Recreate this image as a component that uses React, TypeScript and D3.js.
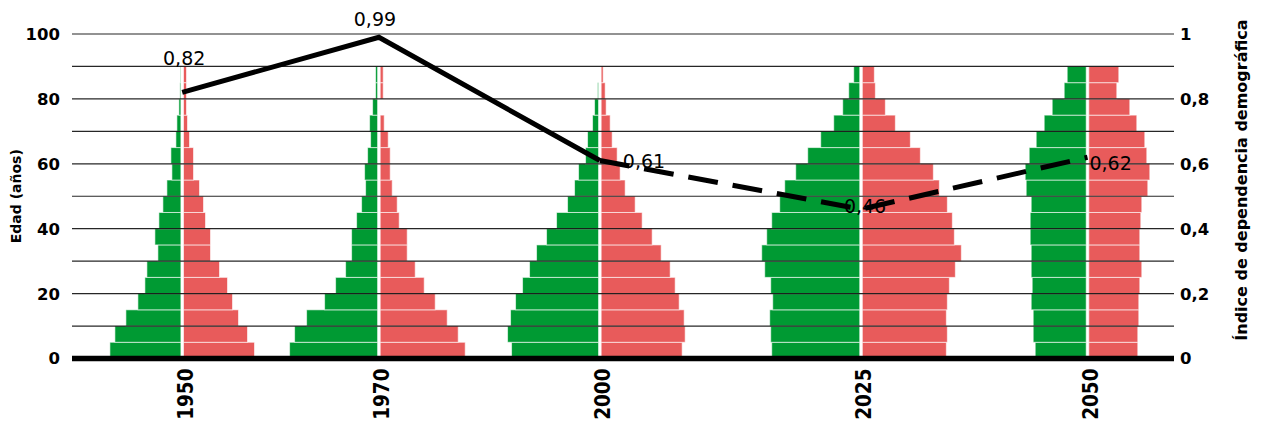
import { useEffect, useRef } from "react";
import * as d3 from "d3";

// census years shown as pyramids along the bottom
const YEARS = ["1950", "1970", "2000", "2025", "2050"];
// 5-year age groups, starting age of each group
const AGE_STARTS = [0, 5, 10, 15, 20, 25, 30, 35, 40, 45, 50, 55, 60, 65, 70, 75, 80, 85];

// population by age group (thousands), men = green / left, women = red / right
const MEN_1950 = [710, 660, 550, 430, 360, 340, 230, 260, 220, 180, 140, 90, 100, 50, 40, 20, 10, 5];
const WOMEN_1950 = [710, 640, 550, 490, 440, 360, 270, 270, 220, 200, 160, 100, 100, 60, 40, 30, 30, 30];
const MEN_1970 = [880, 830, 710, 530, 420, 320, 260, 260, 210, 160, 120, 130, 100, 70, 80, 50, 20, 20];
const WOMEN_1970 = [850, 780, 670, 550, 440, 350, 270, 270, 190, 170, 120, 100, 100, 80, 40, 0, 30, 30];
const MEN_2000 = [870, 910, 880, 830, 760, 690, 620, 520, 420, 310, 240, 200, 130, 110, 60, 40, 10, 0];
const WOMEN_2000 = [810, 840, 830, 780, 740, 690, 600, 510, 410, 340, 240, 190, 160, 110, 90, 50, 40, 20];
const MEN_2025 = [880, 890, 900, 870, 890, 950, 980, 930, 880, 800, 750, 640, 520, 390, 260, 170, 110, 60];
const WOMEN_2025 = [840, 850, 840, 850, 870, 930, 990, 920, 900, 850, 770, 710, 580, 480, 330, 230, 130, 120];
const MEN_2050 = [510, 530, 530, 550, 540, 550, 550, 560, 560, 550, 600, 610, 570, 500, 420, 340, 220, 190];
const WOMEN_2050 = [490, 490, 500, 500, 510, 530, 510, 510, 520, 530, 590, 610, 580, 560, 480, 410, 280, 300];

const MEN = [MEN_1950, MEN_1970, MEN_2000, MEN_2025, MEN_2050];
const WOMEN = [WOMEN_1950, WOMEN_1970, WOMEN_2000, WOMEN_2025, WOMEN_2050];

// demographic dependency index per year
const DEPENDENCY = [0.82, 0.99, 0.61, 0.46, 0.62];

const AGE_TICKS = [0, 20, 40, 60, 80, 100];
const AGE_GRID = [10, 20, 30, 40, 50, 60, 70, 80, 90, 100];
const INDEX_TICKS = [0, 0.2, 0.4, 0.6, 0.8, 1];

const WIDTH = 1262;
const HEIGHT = 422;
const margin = { top: 34, right: 88, bottom: 63.5, left: 72 };
// where each pyramid sits across the plot (fraction of plot width)
const COLUMN_POS = [0.1, 0.2785, 0.479, 0.716, 0.9215];
// label placement relative to each line point
const LABEL_POS = [
  { dx: 2, dy: -27, anchor: "middle" },
  { dx: -4, dy: -11, anchor: "middle" },
  { dx: 23, dy: 7, anchor: "start" },
  { dx: 4, dy: 4, anchor: "middle" },
  { dx: 2, dy: 13, anchor: "start" },
];

const GREEN = "#009a33";
const RED = "#e85b5b";
const FONT = "'DejaVu Sans', sans-serif";
const FONT_COND = "'DejaVu Sans Condensed', 'DejaVu Sans', sans-serif";

export default function App() {
  const svgRef = useRef<SVGSVGElement>(null);

  useEffect(() => {
    if (!svgRef.current) return;
    const svg = d3.select(svgRef.current);
    svg.selectAll("*").remove();

    const x0 = margin.left;
    const x1 = WIDTH - margin.right;
    const innerW = x1 - x0;

    const y = d3.scaleLinear().domain([0, 100]).range([HEIGHT - margin.bottom, margin.top]);
    const yIdx = d3.scaleLinear().domain([0, 1]).range([HEIGHT - margin.bottom, margin.top]);
    const xCol = d3
      .scaleOrdinal<string, number>()
      .domain(YEARS)
      .range(COLUMN_POS.map((f) => x0 + f * innerW));
    const w = d3.scaleLinear().domain([0, 1000]).range([0, 100]);
    const gap = 1.3;
    const fmt = (v: number) => d3.format(".2~f")(v).replace(".", ",");

    // pyramids
    YEARS.forEach((year, i) => {
      const cx = xCol(year);
      const g = svg.append("g");
      g.selectAll("rect.m")
        .data(MEN[i])
        .enter()
        .append("rect")
        .attr("x", (d) => cx - gap - w(d))
        .attr("y", (_, j) => y(AGE_STARTS[j] + 5))
        .attr("width", (d) => w(d))
        .attr("height", (_, j) => y(AGE_STARTS[j]) - y(AGE_STARTS[j] + 5))
        .attr("fill", GREEN)
        .attr("stroke", "#fff")
        .attr("stroke-opacity", 0.6)
        .attr("stroke-width", 1);
      g.selectAll("rect.f")
        .data(WOMEN[i])
        .enter()
        .append("rect")
        .attr("x", cx + gap)
        .attr("y", (_, j) => y(AGE_STARTS[j] + 5))
        .attr("width", (d) => w(d))
        .attr("height", (_, j) => y(AGE_STARTS[j]) - y(AGE_STARTS[j] + 5))
        .attr("fill", RED)
        .attr("stroke", "#fff")
        .attr("stroke-opacity", 0.6)
        .attr("stroke-width", 1);
    });

    // grid lines over the bars
    svg
      .append("g")
      .selectAll("line")
      .data(AGE_GRID)
      .enter()
      .append("line")
      .attr("x1", x0)
      .attr("x2", x1)
      .attr("y1", (d) => y(d))
      .attr("y2", (d) => y(d))
      .attr("stroke", "#000")
      .attr("stroke-opacity", 0.85)
      .attr("stroke-width", 1.2);

    // base line
    svg
      .append("line")
      .attr("x1", x0)
      .attr("x2", x1)
      .attr("y1", y(0))
      .attr("y2", y(0))
      .attr("stroke", "#000")
      .attr("stroke-width", 5.5);

    // left axis
    svg
      .append("g")
      .selectAll("text")
      .data(AGE_TICKS)
      .enter()
      .append("text")
      .attr("x", x0 - 12)
      .attr("y", (d) => y(d))
      .attr("dy", "0.36em")
      .attr("text-anchor", "end")
      .attr("font-family", FONT)
      .attr("font-weight", "bold")
      .attr("font-size", 16.5)
      .text((d) => d);

    svg
      .append("text")
      .attr("transform", `translate(16,${y(50)}) rotate(-90)`)
      .attr("dy", "0.36em")
      .attr("text-anchor", "middle")
      .attr("font-family", FONT)
      .attr("font-weight", "bold")
      .attr("font-size", 14)
      .text("Edad (años)");

    // right axis
    svg
      .append("g")
      .selectAll("text")
      .data(INDEX_TICKS)
      .enter()
      .append("text")
      .attr("x", x1 + 6)
      .attr("y", (d) => yIdx(d))
      .attr("dy", "0.36em")
      .attr("text-anchor", "start")
      .attr("font-family", FONT)
      .attr("font-weight", "bold")
      .attr("font-size", 16.5)
      .text((d) => fmt(d));

    svg
      .append("text")
      .attr("transform", `translate(1241,${yIdx(0.55)}) rotate(-90)`)
      .attr("dy", "0.36em")
      .attr("text-anchor", "middle")
      .attr("font-family", FONT)
      .attr("font-weight", "bold")
      .attr("font-size", 16)
      .text("Índice de dependencia demográfica");

    // year labels
    svg
      .append("g")
      .selectAll("text")
      .data(YEARS)
      .enter()
      .append("text")
      .attr("transform", (d) => `translate(${xCol(d) + 3},${y(0) + 10}) rotate(-90)`)
      .attr("dy", "0.36em")
      .attr("text-anchor", "end")
      .attr("font-family", FONT_COND)
      .attr("font-weight", "bold")
      .attr("font-size", 20.5)
      .text((d) => d);

    // dependency line: measured part solid, projection dashed
    const pts: [number, number][] = YEARS.map((yr, i) => [xCol(yr), yIdx(DEPENDENCY[i])]);
    const line = d3.line();
    svg
      .append("path")
      .attr("d", line(pts.slice(0, 3)))
      .attr("fill", "none")
      .attr("stroke", "#000")
      .attr("stroke-width", 5)
      .attr("stroke-linejoin", "miter");
    svg
      .append("path")
      .attr("d", line(pts.slice(2)))
      .attr("fill", "none")
      .attr("stroke", "#000")
      .attr("stroke-width", 5)
      .attr("stroke-dasharray", "30,15");

    svg
      .append("g")
      .selectAll("text")
      .data(DEPENDENCY)
      .enter()
      .append("text")
      .attr("x", (_, i) => pts[i][0] + LABEL_POS[i].dx)
      .attr("y", (_, i) => pts[i][1] + LABEL_POS[i].dy)
      .attr("text-anchor", (_, i) => LABEL_POS[i].anchor)
      .attr("font-family", FONT)
      .attr("font-size", 19)
      .attr("fill", "#000")
      .text((d) => fmt(d));
  }, []);

  return (
    <svg
      ref={svgRef}
      width={WIDTH}
      height={HEIGHT}
      style={{ position: "absolute", left: 0, top: 0, background: "#fff" }}
    />
  );
}
